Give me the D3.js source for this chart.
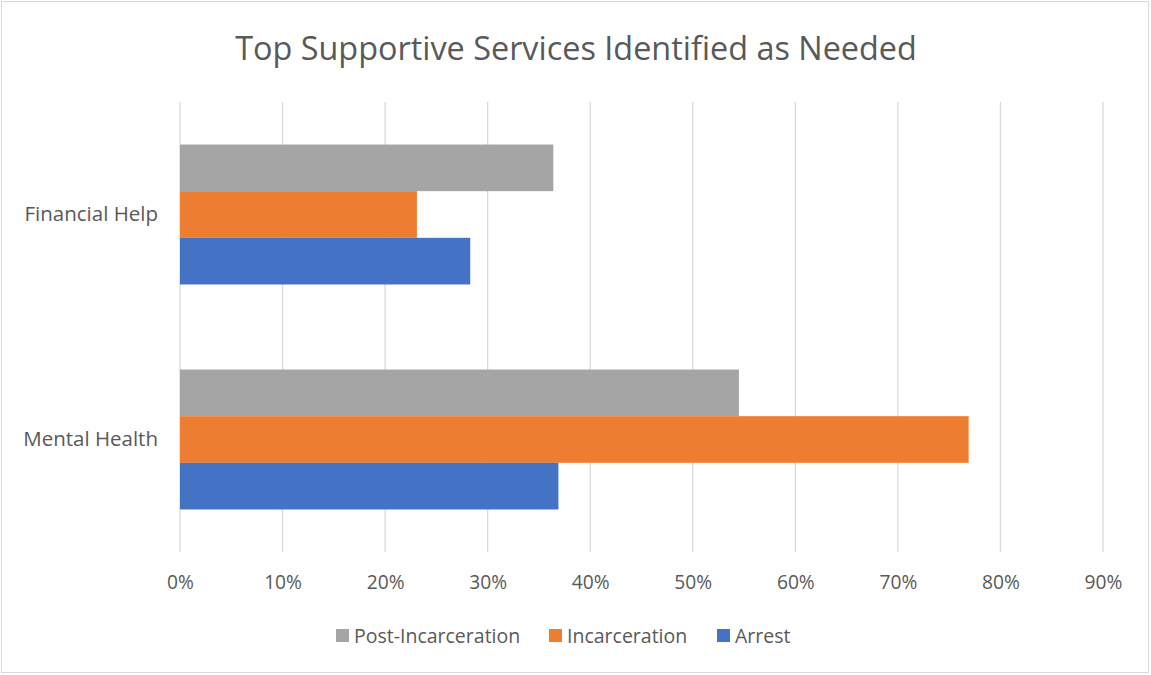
<!DOCTYPE html>
<html>
<head>
<meta charset="utf-8">
<script src="https://cdn.jsdelivr.net/npm/d3@7"></script>
<style>
  body { margin: 0; background: #fff; }
  text { font-family: "Open Sans", sans-serif; fill: #595959; }
</style>
</head>
<body>
<svg id="chart" width="1151" height="675"></svg>
<script>
// data
const categories = ['Financial Help', 'Mental Health'];
const seriesNames = ['Post-Incarceration', 'Incarceration', 'Arrest'];
const postIncarceration = [0.364, 0.545];
const incarceration = [0.231, 0.769];
const arrest = [0.283, 0.369];
const tickValues = [0, 0.1, 0.2, 0.3, 0.4, 0.5, 0.6, 0.7, 0.8, 0.9];
const colors = ['#A5A5A5', '#ED7D31', '#4472C4'];

const seriesValues = [postIncarceration, incarceration, arrest];

const svg = d3.select('#chart');

// outer chart border
svg.append('rect')
  .attr('x', 1.5).attr('y', 1.5)
  .attr('width', 1147).attr('height', 671)
  .attr('fill', '#fff')
  .attr('stroke', '#d9d9d9');

const x = d3.scaleLinear().domain([0, 0.9]).range([180, 1103]);
const y = d3.scaleBand().domain(categories).range([102, 552])
  .paddingInner(0.378).paddingOuter(0.189);
const ySub = d3.scaleBand().domain(seriesNames).range([0, y.bandwidth()]);

// title
svg.append('text')
  .attr('x', 576).attr('y', 60)
  .attr('text-anchor', 'middle')
  .style('font-size', '32.4px')
  .text('Top Supportive Services Identified as Needed');

// gridlines
svg.append('g')
  .selectAll('line')
  .data(tickValues)
  .enter()
  .append('line')
  .attr('x1', d => x(d)).attr('x2', d => x(d))
  .attr('y1', 102).attr('y2', 552)
  .attr('stroke', '#d9d9d9')
  .attr('stroke-width', 1.3);

// x axis labels
const xAxis = d3.axisBottom(x)
  .tickValues(tickValues)
  .tickFormat(d3.format('.0%'))
  .tickSize(0)
  .tickPadding(23);
const gx = svg.append('g')
  .attr('transform', 'translate(0,552)')
  .call(xAxis);
gx.select('.domain').remove();
gx.selectAll('text').style('font-size', '19.2px').attr('fill', '#595959');

// category labels
const yAxis = d3.axisLeft(y).tickSize(0).tickPadding(22);
const gy = svg.append('g')
  .attr('transform', 'translate(180,0)')
  .call(yAxis);
gy.select('.domain').remove();
gy.selectAll('text').style('font-size', '20.5px').attr('fill', '#595959');

// bars
const groups = svg.append('g')
  .selectAll('g')
  .data(categories)
  .enter()
  .append('g')
  .attr('transform', d => `translate(0,${y(d)})`);

groups.selectAll('rect')
  .data((c, ci) => seriesNames.map((s, si) => ({ s, v: seriesValues[si][ci], color: colors[si] })))
  .enter()
  .append('rect')
  .attr('x', x(0))
  .attr('y', d => ySub(d.s))
  .attr('width', d => x(d.v) - x(0))
  .attr('height', ySub.bandwidth())
  .attr('fill', d => d.color);

// legend
const legendX = [336, 549, 717];
const legend = svg.append('g')
  .selectAll('g')
  .data(seriesNames)
  .enter()
  .append('g')
  .attr('transform', (d, i) => `translate(${legendX[i]},629)`);

legend.append('rect')
  .attr('width', 13).attr('height', 13)
  .attr('fill', (d, i) => colors[i]);

legend.append('text')
  .attr('x', 18).attr('y', 13.5)
  .style('font-size', '19.5px')
  .text(d => d);
</script>
</body>
</html>
